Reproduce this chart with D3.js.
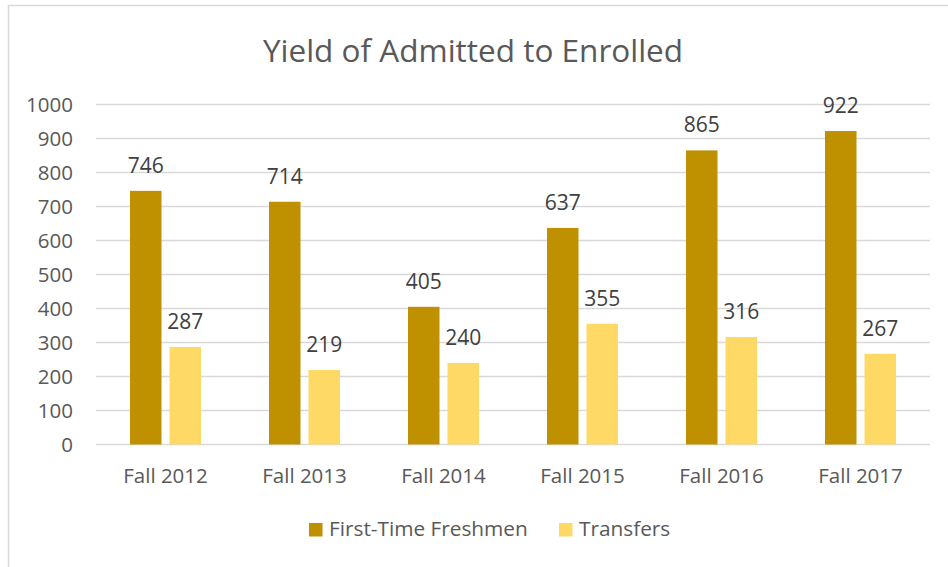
<!DOCTYPE html>
<html>
<head>
<meta charset="utf-8">
<title>Yield of Admitted to Enrolled</title>
<script src="https://cdn.jsdelivr.net/npm/d3@7"></script>
<style>
  body { margin: 0; background: #fff; }
  text { font-family: "Open Sans", "Noto Sans", sans-serif; }
</style>
</head>
<body>
<svg id="svg"></svg>
<script>
// data
var terms = ["Fall 2012", "Fall 2013", "Fall 2014", "Fall 2015", "Fall 2016", "Fall 2017"];
var freshmen = [746, 714, 405, 637, 865, 922];
var transfers = [287, 219, 240, 355, 316, 267];
var seriesNames = ["First-Time Freshmen", "Transfers"];
var yTicks = [0, 100, 200, 300, 400, 500, 600, 700, 800, 900, 1000];

var width = 948, height = 567;
var margin = {top: 104.5, left: 96, right: 18, bottom: 122.5};
var colors = ["#BF9000", "#FFD966"];

var svg = d3.select("#svg").attr("width", width).attr("height", height);

// chart frame
svg.append("path")
  .attr("d", "M8.5," + height + "V5.5H" + width)
  .attr("fill", "none")
  .attr("stroke", "#d9d9d9")
  .attr("stroke-width", 1.5);

svg.append("text")
  .attr("x", 473)
  .attr("y", 61.5)
  .attr("text-anchor", "middle")
  .attr("fill", "#595959")
  .style("font-size", "31.5px")
  .text("Yield of Admitted to Enrolled");

var x = d3.scaleBand().domain(terms).range([margin.left, width - margin.right]);
var y = d3.scaleLinear().domain([0, 1000]).range([height - margin.bottom, margin.top]);

var barW = 31.5, gap = 8;

// gridlines
svg.append("g").selectAll("line")
  .data(yTicks)
  .enter().append("line")
  .attr("x1", margin.left).attr("x2", width - margin.right)
  .attr("y1", function(d) { return y(d); })
  .attr("y2", function(d) { return y(d); })
  .attr("stroke", "#d9d9d9")
  .attr("stroke-width", 1.3);

// y labels
var axisY = d3.axisLeft(y).tickValues(yTicks).tickFormat(d3.format("d"))
  .tickSize(0).tickPadding(23);
var gy = svg.append("g")
  .attr("transform", "translate(" + margin.left + ",0)")
  .call(axisY);
gy.select(".domain").remove();
gy.selectAll("text").attr("fill", "#595959").style("font-size", "20.5px")
  .style("font-family", "'Open Sans', sans-serif");

// x labels
var axisX = d3.axisBottom(x).tickSize(0).tickPadding(23.5);
var gx = svg.append("g")
  .attr("transform", "translate(0," + y(0) + ")")
  .call(axisX);
gx.select(".domain").remove();
gx.selectAll("text").attr("fill", "#595959").style("font-size", "20.5px")
  .style("font-family", "'Open Sans', sans-serif");

var series = [freshmen, transfers];
series.forEach(function(vals, si) {
  var off = si === 0 ? -gap / 2 - barW : gap / 2;
  var g = svg.append("g");
  g.selectAll("rect")
    .data(vals)
    .enter().append("rect")
    .attr("x", function(d, i) { return x(terms[i]) + x.bandwidth() / 2 + off; })
    .attr("y", function(d) { return y(d); })
    .attr("width", barW)
    .attr("height", function(d) { return y(0) - y(d); })
    .attr("fill", colors[si]);
  g.selectAll("text")
    .data(vals)
    .enter().append("text")
    .attr("x", function(d, i) { return x(terms[i]) + x.bandwidth() / 2 + off + barW / 2; })
    .attr("y", function(d) { return y(d) - 18; })
    .attr("text-anchor", "middle")
    .attr("fill", "#404040")
    .style("font-size", "21px")
    .text(function(d) { return d; });
});

// legend
var legendX = [309, 559];
var leg = svg.append("g");
seriesNames.forEach(function(name, i) {
  leg.append("rect")
    .attr("x", legendX[i]).attr("y", 523)
    .attr("width", 13.5).attr("height", 13.5)
    .attr("fill", colors[i]);
  leg.append("text")
    .attr("x", legendX[i] + 20).attr("y", 536)
    .attr("fill", "#595959")
    .style("font-size", "20.8px")
    .text(name);
});
</script>
</body>
</html>
